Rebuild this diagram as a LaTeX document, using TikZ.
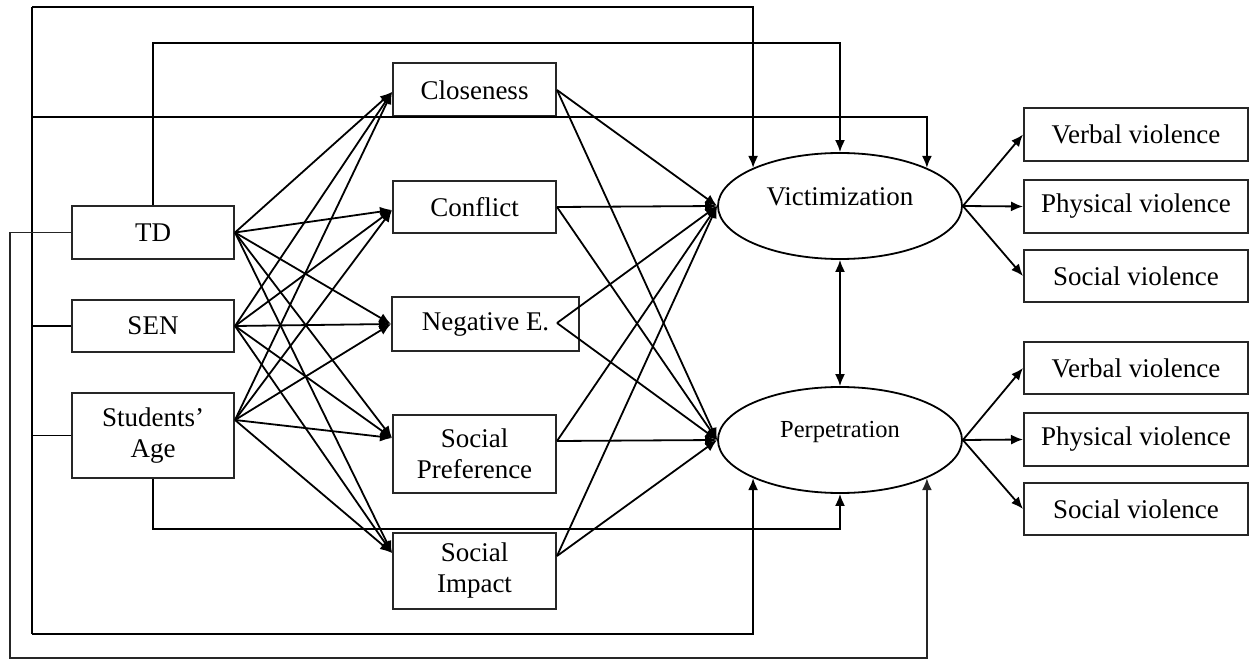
\documentclass[tikz,border=0pt]{standalone}
\usepackage{fontspec}
\setmainfont{Liberation Serif}
\usetikzlibrary{arrows.meta,shapes.geometric}
\begin{document}
\begin{tikzpicture}[x=1pt,y=-1pt,
  line width=1.8pt,
  arr/.style={-{Latex[length=12pt,width=10pt]}},
  bi/.style={{Latex[length=12pt,width=10pt]}-{Latex[length=12pt,width=10pt]}},
  box/.style={draw=black!85,line width=2pt,inner sep=0pt,align=center,
    font=\fontsize{27}{31}\selectfont},
  latent/.style={draw,ellipse,line width=1.8pt,inner sep=0pt,
    minimum width=244pt,minimum height=106pt}]
\useasboundingbox (0,0) rectangle (1250,660);

% exogenous variables
\node[box,minimum width=162pt,minimum height=53pt] (td)  at (153,232.5) {TD};
\node[box,minimum width=162pt,minimum height=52pt] (sen) at (153,326) {SEN};
\node[box,minimum width=162pt,minimum height=85pt] (age) at (153,435.5) {Students’\\Age};

% mediators
\node[box,minimum width=163pt,minimum height=53pt] (clo)  at (474.5,90) {Closeness};
\node[box,minimum width=163pt,minimum height=52pt] (con)  at (474.5,207) {Conflict};
\node[box,minimum width=187pt,minimum height=54pt] (neg)  at (485.5,324) {Negative E.};
\node[box,minimum width=163pt,minimum height=78pt] (pref) at (474.5,454) {Social\\Preference};
\node[box,minimum width=163pt,minimum height=76pt] (imp)  at (474.5,571) {Social\\Impact};

% latent outcomes
\node[latent,label={[yshift=9pt,font=\fontsize{27}{31}\selectfont]center:Victimization}] (vict) at (840,206) {};
\node[latent,label={[yshift=8pt,font=\fontsize{24.5}{28}\selectfont]center:Perpetration}] (perp) at (840,440) {};

% indicators
\node[box,minimum width=224pt,minimum height=53pt] (v1) at (1136,134.5) {Verbal violence};
\node[box,minimum width=224pt,minimum height=53pt] (p1) at (1136,206.5) {Physical violence};
\node[box,minimum width=224pt,minimum height=52pt] (s1) at (1136,276) {Social violence};
\node[box,minimum width=224pt,minimum height=52pt] (v2) at (1136,368) {Verbal violence};
\node[box,minimum width=224pt,minimum height=53pt] (p2) at (1136,439.5) {Physical violence};
\node[box,minimum width=224pt,minimum height=52pt] (s2) at (1136,509) {Social violence};

% attachment points
\coordinate (ageOut)  at ([yshift=15.5pt]age.east);
\coordinate (cloIn)   at ([yshift=-2pt]clo.west);
\coordinate (conIn)   at ([yshift=-3pt]con.west);
\coordinate (prefIn)  at ([yshift=16pt]pref.west);
\coordinate (impIn)   at ([yshift=18pt]imp.west);
\coordinate (negOut)  at (557,323);
\coordinate (prefOut) at ([yshift=13pt]pref.east);
\coordinate (impOut)  at ([yshift=15pt]imp.east);

% predictors to mediators
\foreach \s in {td.east,sen.east,ageOut}
  \foreach \t in {cloIn,conIn,neg.west,prefIn,impIn}
    \draw[arr] (\s) -- (\t);

% mediators to outcomes
\foreach \s in {clo.east,con.east,negOut,prefOut,impOut}
  \foreach \t in {vict.west,perp.west}
    \draw[arr] (\s) -- (\t);

% outcomes to indicators
\foreach \t in {v1,p1,s1} \draw[arr] (vict.east) -- (\t.west);
\foreach \t in {v2,p2,s2} \draw[arr] (perp.east) -- (\t.west);

\draw[bi] (vict.south) -- (perp.north);

% direct paths
\coordinate (busTop) at (32,7);
\coordinate (busMid) at (32,117);
\coordinate (busBot) at (32,634);
\draw (busTop) -- (busBot);
\draw (sen.west) -- (sen.west -| busTop);
\draw (age.west) -- (age.west -| busTop);
\draw[arr] (busTop) -| (vict.north west);
\draw[arr] (busMid) -| (vict.north east);
\draw[arr] (busBot) -| (perp.south west);

\coordinate (tdTop) at (153,43);
\draw[arr] (td.north) -- (tdTop) -| (vict.north);
\coordinate (ageLow) at (153,529);
\draw[arr] (age.south) -- (ageLow) -| (perp.south);

\coordinate (tdLoop) at (10,658);
\draw[arr,black!85] (td.west) -| (tdLoop) -| (perp.south east);
\end{tikzpicture}
\end{document}
